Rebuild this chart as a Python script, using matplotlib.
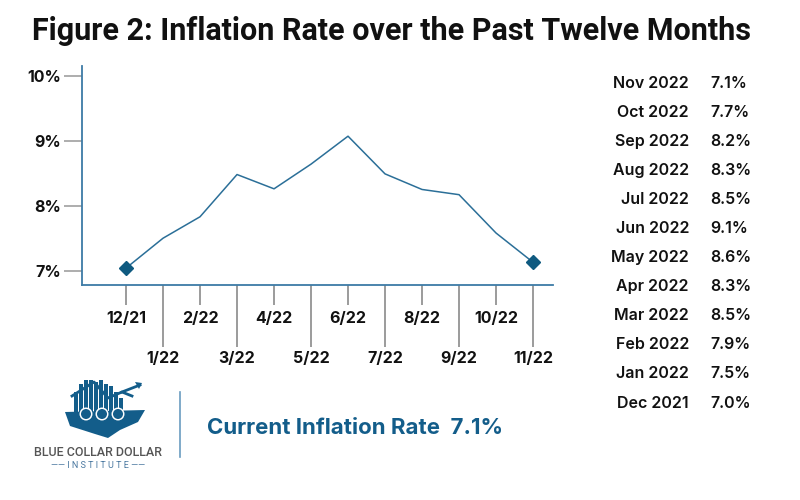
import matplotlib
matplotlib.use("Agg")
import matplotlib.pyplot as plt
from matplotlib.patches import Rectangle, Circle, Polygon
from matplotlib.lines import Line2D

plt.rcParams['font.family'] = ['Inter', 'DejaVu Sans']

# ---- data ----
tick_labels = ["12/21", "1/22", "2/22", "3/22", "4/22", "5/22",
               "6/22", "7/22", "8/22", "9/22", "10/22", "11/22"]
line_values = [7.04, 7.50, 7.83, 8.48, 8.26, 8.64, 9.07, 8.49, 8.25, 8.17, 7.58, 7.13]
table_months = ["Nov 2022", "Oct 2022", "Sep 2022", "Aug 2022", "Jul 2022", "Jun 2022",
                "May 2022", "Apr 2022", "Mar 2022", "Feb 2022", "Jan 2022", "Dec 2021"]
table_values = ["7.1%", "7.7%", "8.2%", "8.3%", "8.5%", "9.1%",
                "8.6%", "8.3%", "8.5%", "7.9%", "7.5%", "7.0%"]
y_ticks = [7, 8, 9, 10]
y_tick_labels = ["7%", "8%", "9%", "10%"]
title = "Figure 2: Inflation Rate over the Past Twelve Months"
current_label = "Current Inflation Rate  7.1%"

LINE = "#2b6f98"
MARK = "#0f5a80"
SPINE = "#3d7ba6"
TICK = "#8a8a8a"
TXT = "#111111"
DARKBLUE = "#135d8a"
ROBOTO = ["Roboto", "DejaVu Sans"]

fig = plt.figure(figsize=(8, 5), dpi=100)
fig.patch.set_facecolor("white")

ax = fig.add_axes([82/800, 1-285/500, 471/800, (285-66)/500])
x = list(range(len(line_values)))
ax.plot(x, line_values, color=LINE, lw=1.1)
ax.plot([x[0], x[-1]], [line_values[0], line_values[-1]], ls="none",
        marker="D", ms=7, color=MARK)

ax.set_xlim(-1.19, 11.54)
ax.set_ylim(6.78, 10.15)
for s in ["top", "right"]:
    ax.spines[s].set_visible(False)
for s in ["left", "bottom"]:
    ax.spines[s].set_color(SPINE)
    ax.spines[s].set_linewidth(1.3)

ax.set_yticks(y_ticks)
ax.set_yticklabels(y_tick_labels, fontsize=11.5, fontweight="bold", color=TXT)
ax.tick_params(axis="y", length=13, width=1.2, color="#a0a0a0", pad=2)

ax.set_xticks(x[0::2])
ax.set_xticklabels(tick_labels[0::2], fontsize=11.5, fontweight="bold", color=TXT)
ax.set_xticks(x[1::2], minor=True)
ax.set_xticklabels(tick_labels[1::2], minor=True, fontsize=11.5, fontweight="bold", color=TXT)
ax.tick_params(axis="x", which="major", length=14.5, width=1.2, color=TICK, pad=4)
ax.tick_params(axis="x", which="minor", length=44.5, width=1.2, color=TICK, pad=3)
ax.patch.set_alpha(0)

# title
fig.text(392/800, 1-31/500, title, ha="center", va="center",
         fontsize=22, fontweight="bold", color=TXT, family=ROBOTO)

# right table
for i, (m, v) in enumerate(zip(table_months, table_values)):
    yy = 1 - (83 + i*29.1)/500
    fig.text(689/800, yy, m, ha="right", va="center", fontsize=11.5,
             fontweight="semibold", color=TXT)
    fig.text(710/800, yy, v, ha="left", va="center", fontsize=11.5,
             fontweight="semibold", color=TXT)

# current inflation
fig.text(207/800, 1-428/500, current_label, ha="left", va="center",
         fontsize=16, fontweight="bold", color=DARKBLUE)

# separator
fig.add_artist(Line2D([180/800, 180/800], [1-392/500, 1-457/500],
                      color="#6a9cc0", lw=1.2, transform=fig.transFigure))

# logo (simplified)
fa = fig.add_axes([60/800, 1-440/500, 90/800, 60/500])
fa.set_xlim(0, 90); fa.set_ylim(0, 60); fa.axis("off")
for bx, bh in zip([14, 19, 24, 29, 34, 39, 44, 49, 54, 59],
                  [28, 36, 42, 48, 38, 40, 36, 34, 28, 22]):
    fa.add_patch(Rectangle((bx, 20), 3.5, bh, color=DARKBLUE, lw=0))
fa.plot([12, 34, 48, 62, 72], [44, 58, 42, 48, 44], color=DARKBLUE, lw=2)
fa.plot([62, 80], [48, 55], color=DARKBLUE, lw=2)
fa.add_patch(Polygon([[82, 57], [75, 58], [79, 51]], color=DARKBLUE, lw=0))
fa.add_patch(Polygon([[5, 28], [85, 30], [78, 18], [60, 10], [48, 2], [35, 6], [10, 14]],
                     color=DARKBLUE, lw=0))
for cx in [26, 42, 58]:
    fa.add_patch(Circle((cx, 26), 6.5, color="white", lw=0))
    fa.add_patch(Circle((cx, 26), 5, color=DARKBLUE, lw=0))

fig.text(98/800, 1-452/500, "BLUE COLLAR DOLLAR", ha="center", va="center",
         fontsize=9, fontweight="medium", color="#555555", family=ROBOTO)
fig.text(98/800, 1-466/500, "—— I N S T I T U T E ——", ha="center", va="center",
         fontsize=6.5, color="#4a78a0", family=ROBOTO)

fig.savefig("out.png", dpi=100)
